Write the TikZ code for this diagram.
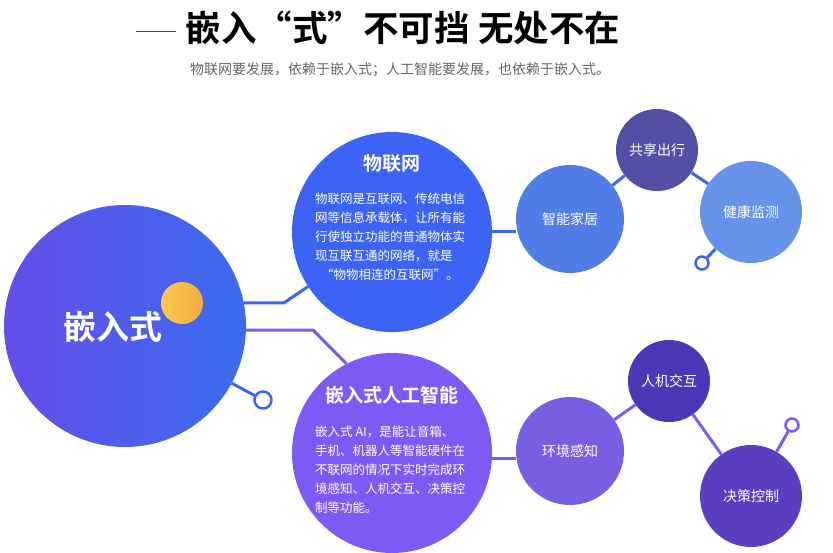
\documentclass[tikz,border=0pt]{standalone}
\usepackage{fontspec}
\setmainfont{Noto Sans CJK SC}[BoldFont={Noto Sans CJK SC Bold}]
\definecolor{iotblue}{RGB}{61,99,245}
\definecolor{aipurple}{RGB}{126,90,245}
\definecolor{embpurple}{RGB}{100,78,232}
\definecolor{embblue}{RGB}{58,108,238}
\definecolor{homeblue}{RGB}{80,126,230}
\definecolor{shareblue}{RGB}{82,80,165}
\definecolor{healthblue}{RGB}{102,146,234}
\definecolor{envpurple}{RGB}{120,95,225}
\definecolor{hcipurple}{RGB}{76,56,182}
\definecolor{decpurple}{RGB}{92,62,192}
\definecolor{dotyellow}{RGB}{252,200,84}
\definecolor{dotorange}{RGB}{244,172,62}
\definecolor{ruleblue}{RGB}{50,70,160}
\tikzset{
  bubble/.style={circle, inner sep=0pt, minimum size=#1},
  photolabel/.style={text=white, font=\fontsize{14}{14}\selectfont},
  bubbletitle/.style={text=white, font=\bfseries\fontsize{19}{19}\selectfont},
  bodytext/.style={text=white, align=left, anchor=west, inner sep=0pt, font=\fontsize{12.5}{19}\selectfont},
  ring/.style={circle, draw, fill=white, inner sep=0pt, line width=2.5pt, minimum size=#1},
  link/.style={line width=3pt}
}
\begin{document}
\begin{tikzpicture}[x=1pt, y=-1pt]
	\useasboundingbox[fill=white] (0,0) rectangle (833,553);
	\draw[ruleblue, line width=0.8pt] (136,31) -- (176,31);
	\node[font=\bfseries\fontsize{35.5}{36}\selectfont] (title) at (403,28) {嵌入“式”不可挡 无处不在};
	\node[text=black!60, font=\fontsize{14}{14}\selectfont] (subtitle) at (400,70) {物联网要发展，依赖于嵌入式；人工智能要发展，也依赖于嵌入式。};
	\node[bubble=242pt, left color=embpurple, right color=embblue] (emb) at (125,326) {};
	\node[bubble=42pt, left color=dotyellow, right color=dotorange] (dot) at (182,303) {};
	\node[text=white, font=\bfseries\fontsize{33}{33}\selectfont] (embtext) at (113,327) {嵌入式};
	\node[ring=17pt, draw=iotblue] (ringa) at (263,400) {};
	\draw[link, iotblue] (emb) -- (ringa);
	\node[bubble=200pt, fill=iotblue] (iot) at (392,232) {};
	\node[bubbletitle] (iottitle) at (392,163) {物联网};
	\node[bodytext] (iottext) at (315,237) {物联网是互联网、传统电信\\网等信息承载体，让所有能\\行使独立功能的普通物体实\\现互联互通的网络，就是\\\hspace{6pt}“物物相连的互联网”。};
	\node[bubble=200pt, fill=aipurple] (ai) at (392,453) {};
	\node[bubbletitle] (aititle) at (392,395) {嵌入式人工智能};
	\node[bodytext] (aitext) at (315,470) {嵌入式 AI，是能让音箱、\\手机、机器人等智能硬件在\\不联网的情况下实时完成环\\境感知、人机交互、决策控\\制等功能。};
	\draw[link, iotblue] (emb.11) -- ++(40,0) -- (iot.213);
	\draw[link, aipurple] (emb.-2) -- ++(67,0) -- (ai.117);
	\node[bubble=108pt, fill=homeblue] (home) at (570,219) {};
	\node[bubble=82pt, fill=shareblue] (share) at (657,150) {};
	\node[bubble=102pt, fill=healthblue] (health) at (751,212) {};
	\node[ring=13pt, draw=iotblue] (ringb) at (702,263) {};
	\draw[link, iotblue] (iot.east) -- (iot.east -| home.west);
	\draw[link, iotblue] (home) -- (share);
	\draw[link, iotblue] (share) -- (health);
	\draw[link, iotblue] (health) -- (ringb);
	\node[photolabel] at (home) {智能家居};
	\node[photolabel] at (share) {共享出行};
	\node[photolabel] at (health) {健康监测};
	\node[bubble=108pt, fill=envpurple] (env) at (570,451) {};
	\node[bubble=82pt, fill=hcipurple] (hci) at (669,381) {};
	\node[bubble=102pt, fill=decpurple] (dec) at (751,496) {};
	\node[ring=13pt, draw=aipurple] (ringc) at (792,425) {};
	\draw[link, aipurple] (ai.-3) -- (ai.-3 -| env.west);
	\draw[link, aipurple] (env) -- (hci);
	\draw[link, aipurple] (hci) -- (dec);
	\draw[link, aipurple] (dec) -- (ringc);
	\node[photolabel] at (env) {环境感知};
	\node[photolabel] at (hci) {人机交互};
	\node[photolabel] at (dec) {决策控制};
\end{tikzpicture}
\end{document}
